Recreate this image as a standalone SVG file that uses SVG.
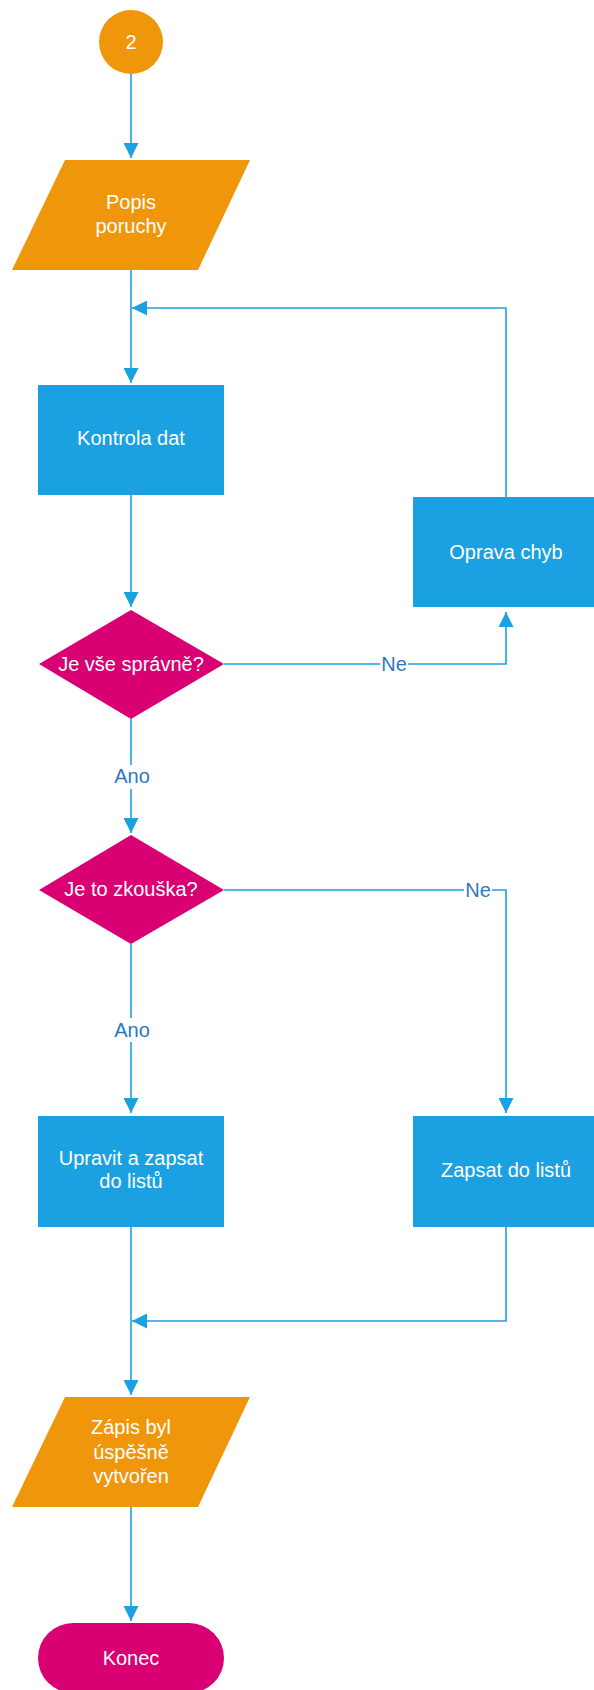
<svg xmlns="http://www.w3.org/2000/svg" width="594" height="1690" viewBox="0 0 594 1690">
<style>
.lbl{font-family:"Liberation Sans",Arial,sans-serif;font-size:20px;fill:#fff;text-anchor:middle}
.clbl{font-family:"Liberation Sans",Arial,sans-serif;font-size:20px;fill:#2f77bd;text-anchor:middle}
.org{fill:#f0960a}
.blu{fill:#1ba1e2}
.mag{fill:#d80073}
.ln{fill:none;stroke:#1ba1e2;stroke-width:1.6}
</style>
<defs>
<marker id="ah" markerUnits="userSpaceOnUse" markerWidth="16" markerHeight="15" refX="15" refY="7.5" orient="auto">
<path d="M0,0 L15,7.5 L0,15 Z" fill="#1ba1e2"/>
</marker>
</defs>
<g id="connectors">
<path class="ln" d="M131,74 V158" marker-end="url(#ah)"/>
<path class="ln" d="M131,270 V383" marker-end="url(#ah)"/>
<path class="ln" d="M131,495 V607" marker-end="url(#ah)"/>
<path class="ln" d="M131,719 V833" marker-end="url(#ah)"/>
<path class="ln" d="M506,497 V308 H132" marker-end="url(#ah)"/>
<path class="ln" d="M224,664 H506 V612" marker-end="url(#ah)"/>
<path class="ln" d="M224,890 H506 V1113" marker-end="url(#ah)"/>
<path class="ln" d="M131,944 V1113" marker-end="url(#ah)"/>
<path class="ln" d="M131,1227 V1395" marker-end="url(#ah)"/>
<path class="ln" d="M506,1227 V1321 H132" marker-end="url(#ah)"/>
<path class="ln" d="M131,1507 V1621" marker-end="url(#ah)"/>
<rect x="115" y="765" width="34" height="24" fill="#fff"/>
<text class="clbl" x="132" y="783">Ano</text>
<rect x="380" y="652" width="28" height="24" fill="#fff"/>
<text class="clbl" x="394" y="671">Ne</text>
<rect x="464" y="878" width="28" height="24" fill="#fff"/>
<text class="clbl" x="478" y="897">Ne</text>
<rect x="115" y="1018" width="34" height="24" fill="#fff"/>
<text class="clbl" x="132" y="1037">Ano</text>
</g>
<g id="start">
<circle class="org" cx="131" cy="42" r="32"/>
<text class="lbl" x="131" y="49">2</text>
</g>
<g id="popis">
<polygon class="org" points="65,160 250,160 198,270 12,270"/>
<text class="lbl" x="131" y="209">Popis</text>
<text class="lbl" x="131" y="233">poruchy</text>
</g>
<g id="kontrola">
<rect class="blu" x="38" y="385" width="186" height="110"/>
<text class="lbl" x="131" y="445">Kontrola dat</text>
</g>
<g id="oprava">
<rect class="blu" x="413" y="497" width="186" height="110"/>
<text class="lbl" x="506" y="559">Oprava chyb</text>
</g>
<g id="spravne">
<polygon class="mag" points="131,610 224,664 131,719 39,664"/>
<text class="lbl" x="131" y="671">Je vše správně?</text>
</g>
<g id="zkouska">
<polygon class="mag" points="131,835 224,890 131,944 39,890"/>
<text class="lbl" x="131" y="896">Je to zkouška?</text>
</g>
<g id="upravit">
<rect class="blu" x="38" y="1116" width="186" height="111"/>
<text class="lbl" x="131" y="1165">Upravit a zapsat</text>
<text class="lbl" x="131" y="1188">do listů</text>
</g>
<g id="zapsat">
<rect class="blu" x="413" y="1116" width="186" height="111"/>
<text class="lbl" x="506" y="1177">Zapsat do listů</text>
</g>
<g id="zapis">
<polygon class="org" points="65,1397 250,1397 198,1507 12,1507"/>
<text class="lbl" x="131" y="1434">Zápis byl</text>
<text class="lbl" x="131" y="1459">úspěšně</text>
<text class="lbl" x="131" y="1483">vytvořen</text>
</g>
<g id="konec">
<rect class="mag" x="38" y="1623" width="186" height="70" rx="35" ry="35"/>
<text class="lbl" x="131" y="1665">Konec</text>
</g>
</svg>
